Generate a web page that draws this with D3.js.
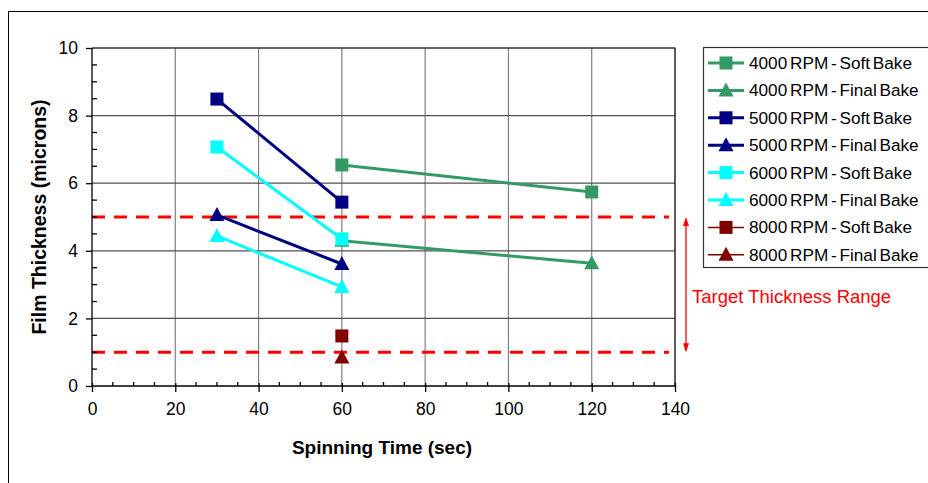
<!DOCTYPE html>
<html>
<head>
<meta charset="utf-8">
<script src="https://cdn.jsdelivr.net/npm/d3@7"></script>
<style>
  html, body { margin: 0; padding: 0; background: #fff; }
  svg { display: block; font-family: Arial, "Liberation Sans", sans-serif; }
</style>
</head>
<body>
<svg id="chart" width="928" height="483"></svg>
<script>
// Spin-coating film thickness vs spinning time
const xTicks = [0, 20, 40, 60, 80, 100, 120, 140];
const yTicks = [0, 2, 4, 6, 8, 10];
const targetRange = [1, 5];

const seriesNames = [
  "4000 RPM - Soft Bake", "4000 RPM - Final Bake",
  "5000 RPM - Soft Bake", "5000 RPM - Final Bake",
  "6000 RPM - Soft Bake", "6000 RPM - Final Bake",
  "8000 RPM - Soft Bake", "8000 RPM - Final Bake"
];
const seriesColors = ["#339966", "#339966", "#000080", "#000080",
                      "#00FFFF", "#00FFFF", "#800000", "#800000"];
const seriesMarkers = ["square", "triangle", "square", "triangle",
                       "square", "triangle", "square", "triangle"];
const seriesTimes = [[60, 120], [60, 120], [30, 60], [30, 60],
                     [30, 60], [30, 60], [60], [60]];
const seriesValues = [
  [6.54, 5.74],
  [4.3, 3.63],
  [8.49, 5.44],
  [5.06, 3.61],
  [7.07, 4.35],
  [4.44, 2.93],
  [1.48],
  [0.84]
];

const svg = d3.select("#chart");

// chart frame
svg.append("rect").attr("x", 8.5).attr("y", 11.5).attr("width", 940).attr("height", 500)
  .attr("fill", "#fff").attr("stroke", "#000").attr("stroke-width", 1);

const plot = { left: 92, right: 675, top: 48, bottom: 386 };
const x = d3.scaleLinear().domain([0, 140]).range([plot.left, plot.right]);
const y = d3.scaleLinear().domain([0, 10]).range([plot.bottom, plot.top]);

// gridlines
const grid = svg.append("g");
grid.selectAll(".vg").data(xTicks.filter(d => d > 0)).join("line")
  .attr("x1", d => x(d)).attr("x2", d => x(d))
  .attr("y1", plot.top).attr("y2", plot.bottom)
  .attr("stroke", "#808080").attr("stroke-width", 1.2);
grid.selectAll(".hg").data(yTicks.filter(d => d > 0)).join("line")
  .attr("x1", plot.left).attr("x2", plot.right)
  .attr("y1", d => y(d)).attr("y2", d => y(d))
  .attr("stroke", "#505050").attr("stroke-width", 1.2);
// plot area border (top + right)
svg.append("path")
  .attr("d", `M${plot.left},${plot.top}H${plot.right}V${plot.bottom}`)
  .attr("fill", "none").attr("stroke", "#222").attr("stroke-width", 1.2);

// target range dashed lines
svg.append("clipPath").attr("id", "plotclip")
  .append("rect").attr("x", plot.left).attr("y", plot.top - 5)
  .attr("width", plot.right - plot.left - 6).attr("height", plot.bottom - plot.top + 10);
svg.append("g").attr("clip-path", "url(#plotclip)")
  .selectAll("line").data(targetRange).join("line")
  .attr("x1", plot.left).attr("x2", plot.right)
  .attr("y1", d => y(d)).attr("y2", d => y(d))
  .attr("stroke", "#FF0000").attr("stroke-width", 3)
  .attr("stroke-dasharray", "13,9");

// axes
const xAxis = d3.axisBottom(x).tickValues(xTicks).tickSize(6).tickPadding(11).tickFormat(d3.format("d"));
const gx = svg.append("g").attr("transform", `translate(0,${plot.bottom})`).call(xAxis);
gx.selectAll(".tick line").attr("y1", -3).attr("y2", 6);
gx.select(".domain").attr("d", `M${plot.left},0H${plot.right}`);
const xMinor = d3.range(0, 141, 5).filter(d => d % 20 !== 0);
gx.selectAll(".minor").data(xMinor).join("line")
  .attr("x1", d => x(d)).attr("x2", d => x(d)).attr("y1", 0).attr("y2", -4)
  .attr("stroke", "#000");

const yAxis = d3.axisLeft(y).tickValues(yTicks).tickSize(6).tickPadding(8).tickFormat(d3.format("d"));
const gy = svg.append("g").attr("transform", `translate(${plot.left},0)`).call(yAxis);
gy.selectAll(".tick line").attr("x1", 0).attr("x2", -6);
gy.select(".domain").attr("d", `M0,${plot.top}V${plot.bottom}`);
const yMinor = d3.range(0.5, 10, 0.5).filter(d => d % 2 !== 0);
gy.selectAll(".minor").data(yMinor).join("line")
  .attr("x1", 0).attr("x2", 5).attr("y1", d => y(d)).attr("y2", d => y(d))
  .attr("stroke", "#000");

[gx, gy].forEach(g => {
  g.selectAll("path, line").attr("stroke", "#000").attr("stroke-width", 1.3);
  g.selectAll("text").attr("font-size", 17.5).attr("fill", "#000")
    .attr("font-family", "Arial, 'Liberation Sans', sans-serif");
});

// axis titles
svg.append("text").attr("x", 382).attr("y", 454).attr("text-anchor", "middle")
  .attr("font-size", 19).attr("font-weight", "bold").text("Spinning Time (sec)");
svg.append("text").attr("transform", "translate(46,217) rotate(-90)")
  .attr("text-anchor", "middle").attr("font-size", 19.5).attr("font-weight", "bold")
  .text("Film Thickness (microns)");

// markers
const sqSize = 13;
function marker(sel, type, color) {
  if (type === "square") {
    sel.append("rect").attr("x", -sqSize / 2).attr("y", -sqSize / 2)
      .attr("width", sqSize).attr("height", sqSize).attr("fill", color);
  } else {
    sel.append("path").attr("d", "M0,-8L7.5,6L-7.5,6Z").attr("fill", color);
  }
}

// series lines and points
const series = seriesNames.map((name, i) => ({
  name, color: seriesColors[i], marker: seriesMarkers[i],
  points: seriesTimes[i].map((t, j) => ({ t, v: seriesValues[i][j] }))
}));
const line = d3.line().x(d => x(d.t)).y(d => y(d.v));
const sg = svg.append("g");
series.forEach(s => {
  if (s.points.length > 1) {
    sg.append("path").datum(s.points).attr("d", line)
      .attr("fill", "none").attr("stroke", s.color).attr("stroke-width", 3);
  }
});
series.forEach(s => {
  s.points.forEach(p => {
    const g = sg.append("g").attr("transform", `translate(${x(p.t)},${y(p.v)})`);
    marker(g, s.marker, s.color);
  });
});

// target range annotation
const ax = 686;
svg.append("line").attr("x1", ax).attr("x2", ax).attr("y1", y(targetRange[1]) + 2).attr("y2", y(targetRange[0]) - 2)
  .attr("stroke", "#FF0000").attr("stroke-width", 1.3);
svg.append("path").attr("d", `M${ax - 3},${y(targetRange[1]) + 9}L${ax},${y(targetRange[1])}L${ax + 3},${y(targetRange[1]) + 9}Z`)
  .attr("fill", "#FF0000");
svg.append("path").attr("d", `M${ax - 3},${y(targetRange[0]) - 9}L${ax},${y(targetRange[0])}L${ax + 3},${y(targetRange[0]) - 9}Z`)
  .attr("fill", "#FF0000");
svg.append("text").attr("x", 692).attr("y", 303).attr("font-size", 18.5)
  .attr("fill", "#FF0000").text("Target Thickness Range");

// legend
const legend = svg.append("g");
legend.append("rect").attr("x", 703.5).attr("y", 47.5).attr("width", 240).attr("height", 220)
  .attr("fill", "#fff").attr("stroke", "#333").attr("stroke-width", 1.2);
series.forEach((s, i) => {
  const ly = 63 + i * 27.4;
  const g = legend.append("g").attr("transform", `translate(0,${ly})`);
  g.append("line").attr("x1", 708).attr("x2", 744).attr("y1", 0).attr("y2", 0)
    .attr("stroke", s.color).attr("stroke-width", i >= 6 ? 1.5 : 3);
  const m = g.append("g").attr("transform", "translate(726,0)");
  marker(m, s.marker, s.color);
  g.append("text").attr("x", 749).attr("y", 6).attr("font-size", 17.2).attr("fill", "#000")
    .attr("word-spacing", -2).text(s.name);
});
</script>
</body>
</html>
